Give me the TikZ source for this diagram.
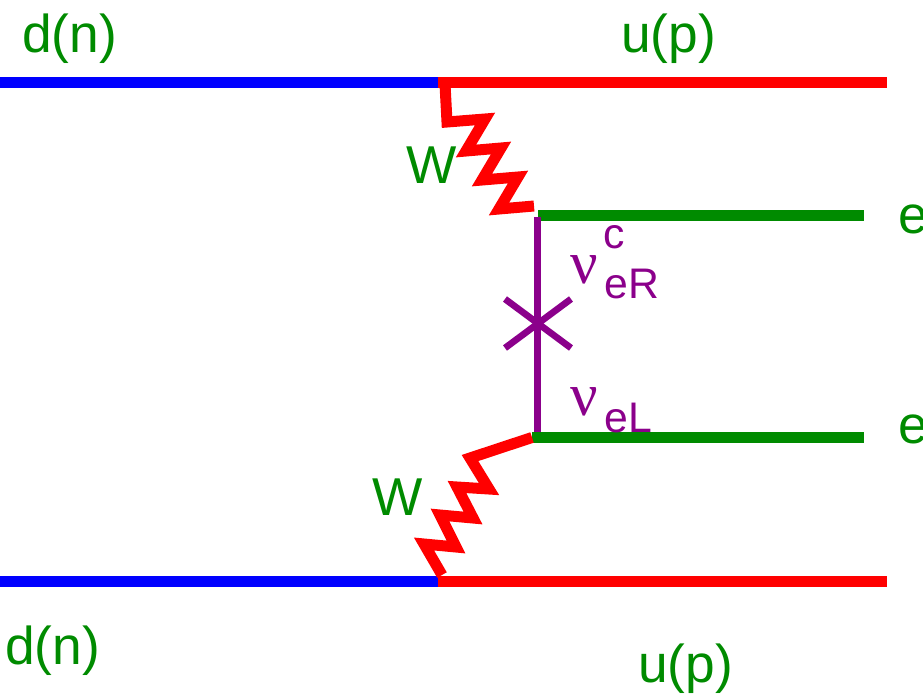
\documentclass[tikz,border=0pt]{standalone}
\usepackage{fontspec}
\setmainfont{Liberation Sans}
\newfontfamily\nufont{Liberation Serif}
\definecolor{labelgreen}{RGB}{0,139,0}
\definecolor{nupurple}{RGB}{139,0,139}
\tikzset{
	fermion/.style={line width=.31cm},
	wboson/.style={red,line width=.33cm,miter limit=10},
	neutrino/.style={nupurple,line width=.2cm},
	biglabel/.style={labelgreen,inner sep=0pt,anchor=base west,font=\fontsize{45.5}{46}\selectfont},
	nulabel/.style={nupurple,inner sep=0pt,anchor=base west,font=\fontsize{52}{52}\selectfont\nufont},
	sublabel/.style={nupurple,inner sep=0pt,anchor=base west,font=\fontsize{36.5}{37}\selectfont}
}
\begin{document}
\begin{tikzpicture}[x=.03cm,y=-.03cm]
	\useasboundingbox (0,0) rectangle (923,693);

	% Diem dau cuoi cac duong
	\coordinate (topL) at (0,82.5);
	\coordinate (topV) at (438,82.5);
	\coordinate (topR) at (887,82.5);
	\coordinate (botL) at (0,581.5);
	\coordinate (botV) at (438,581.5);
	\coordinate (botR) at (887,581.5);
	\coordinate (eUpL) at (538,215.5);
	\coordinate (eUpR) at (864,215.5);
	\coordinate (eLoL) at (532,437.5);
	\coordinate (eLoR) at (864,437.5);
	\coordinate (nuTop) at (537.5,217);
	\coordinate (nuBot) at (537.5,432);

	% Cac duong quark
	\draw[fermion,blue] (topL) -- (topV);
	\draw[fermion,red] (topV) -- (topR);
	\draw[fermion,blue] (botL) -- (botV);
	\draw[fermion,red] (botV) -- (botR);

	% Hai electron
	\draw[fermion,labelgreen] (eUpL) -- (eUpR);
	\draw[fermion,labelgreen] (eLoL) -- (eLoR);

	% Neutrino va dau cheo
	\draw[neutrino] (nuTop) -- (nuBot);
	\draw[neutrino] (505,299) -- (571,348);
	\draw[neutrino] (571,299) -- (505,348);

	% Hai boson W
	\draw[wboson] (445,84) -- (447,122) -- (485,119) -- (466,151) -- (501,148)
		-- (482,180) -- (518,177) -- (499,209) -- (534,206);
	\draw[wboson] (eLoL) -- (470,458) -- (489,489) -- (457,487) -- (473,518)
		-- (440,515) -- (456,547) -- (424,544) -- (442,575);

	% Nhan
	\node[biglabel] (dnTop) at (22,52) {d(n)};
	\node[biglabel] (upTop) at (621,52) {u(p)};
	\node[biglabel] (dnBot) at (5,664) {d(n)};
	\node[biglabel] (upBot) at (638,682) {u(p)};
	\node[biglabel] (wTop) at (406,183) {W};
	\node[biglabel] (wBot) at (372,515) {W};
	\node[biglabel] (eUp) at (898,233) {e};
	\node[biglabel] (eLo) at (898,443) {e};
	\node[nulabel] (nuR) at (570,283) {ν};
	\node[sublabel] (nuRc) at (603,248) {c};
	\node[sublabel] (nuRs) at (604,298) {eR};
	\node[nulabel] (nuL) at (570,415) {ν};
	\node[sublabel] (nuLs) at (604,432) {eL};
\end{tikzpicture}
\end{document}
